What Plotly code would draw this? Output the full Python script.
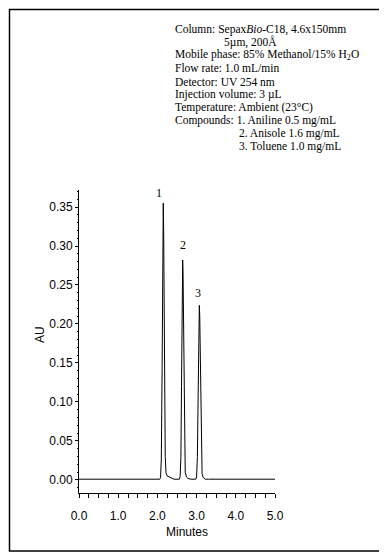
import plotly.graph_objects as go

# ---- data ----
minutes = [0.00, 2.00, 2.06, 2.08, 2.10, 2.12, 2.13, 2.14, 2.15, 2.16, 2.17, 2.18, 2.19, 2.20, 2.22,
           2.25, 2.30, 2.36, 2.42, 2.50, 2.56, 2.58, 2.60, 2.615, 2.625, 2.635, 2.645, 2.655, 2.665,
           2.675, 2.69, 2.71, 2.74, 2.78, 2.85, 2.93, 2.98, 3.00, 3.02, 3.04, 3.05, 3.06, 3.07, 3.08,
           3.09, 3.10, 3.12, 3.14, 3.17, 3.22, 3.30, 5.00]
au = [0.001, 0.001, 0.001, 0.003, 0.027, 0.140, 0.235, 0.320, 0.355, 0.320, 0.235, 0.140, 0.070,
      0.030, 0.009, 0.005, 0.004, 0.002, 0.001, 0.001, 0.001, 0.004, 0.030, 0.120, 0.200, 0.262,
      0.282, 0.262, 0.200, 0.120, 0.040, 0.010, 0.004, 0.002, 0.001, 0.001, 0.001, 0.004, 0.030,
      0.110, 0.170, 0.210, 0.224, 0.210, 0.170, 0.110, 0.030, 0.008, 0.003, 0.001, 0.001, 0.001]

peak_labels = ["1", "2", "3"]
label_times = [2.04, 2.645, 3.04]
label_heights = [0.368, 0.301, 0.240]

info_lines = [
    "Column: Sepax<i>Bio</i>-C18, 4.6x150mm",
    "5\u00b5m, 200\u00c5",
    "Mobile phase: 85% Methanol/15% H<sub>2</sub>O",
    "Flow rate: 1.0 mL/min",
    "Detector: UV 254 nm",
    "Injection volume: 3 \u00b5L",
    "Temperature: Ambient (23\u00b0C)",
    "Compounds: 1. Aniline 0.5 mg/mL",
    "2. Anisole 1.6 mg/mL",
    "3. Toluene 1.0 mg/mL",
]
info_indent = [0, 1, 0, 0, 0, 0, 0, 0, 2, 2]

# ---- layout geometry (window pixels; page body adds an 8px margin) ----
OFF = 8
W, H = 387 - OFF, 558 - OFF
L, R, T, B = 79 - OFF, 275 - OFF, 190 - OFF, 493 - OFF


def px(x):
    return (x - OFF - L) / (R - L)


def py(y):
    return (B - (y - OFF)) / (B - T)


fig = go.Figure()
fig.add_trace(go.Scatter(x=minutes, y=au, mode="lines",
                         line=dict(color="black", width=1), hoverinfo="skip",
                         showlegend=False))

annotations = []
for lab, t, h in zip(peak_labels, label_times, label_heights):
    annotations.append(dict(x=t, y=h, xref="x", yref="y", text=lab, showarrow=False,
                            xanchor="center", yanchor="middle",
                            font=dict(family="Liberation Serif", size=12, color="black")))

indent_px = [173, 222, 237]
for i, (line, ind) in enumerate(zip(info_lines, info_indent)):
    ycen = 29.3 + 13.05 * i
    annotations.append(dict(x=px(indent_px[ind]), y=py(ycen), xref="paper", yref="paper",
                            text=line, showarrow=False, xanchor="left", yanchor="middle",
                            font=dict(family="Liberation Serif", size=11.5, color="black")))

annotations.append(dict(x=px(40), y=py(335), xref="paper", yref="paper", text="AU",
                        textangle=-90, showarrow=False, xanchor="center", yanchor="middle",
                        font=dict(family="Liberation Sans", size=12, color="black")))
annotations.append(dict(x=px(187), y=py(532), xref="paper", yref="paper", text="Minutes",
                        showarrow=False, xanchor="center", yanchor="middle",
                        font=dict(family="Liberation Sans", size=12, color="black")))

shapes = [dict(type="rect", xref="paper", yref="paper",
               x0=px(9.5), x1=px(381.5), y0=py(551), y1=py(9.5),
               line=dict(color="black", width=1.5))]

fig.update_layout(
    width=W, height=H,
    margin=dict(l=L, r=W - R, t=T, b=H - B, pad=0),
    paper_bgcolor="white", plot_bgcolor="white",
    annotations=annotations, shapes=shapes,
    xaxis=dict(range=[0, 5], showgrid=False, zeroline=False, showline=True,
               linecolor="black", linewidth=1, ticks="outside", ticklen=4,
               tickcolor="black", tickwidth=1, dtick=1, tick0=0, tickformat=".1f",
               ticklabelstandoff=8,
               minor=dict(dtick=0.25, ticks="outside", ticklen=4, tickcolor="black",
                          tickwidth=1, showgrid=False),
               tickfont=dict(family="Liberation Sans", size=12, color="black")),
    yaxis=dict(range=[-0.0167, 0.3718], showgrid=False, zeroline=False, showline=True,
               linecolor="black", linewidth=1, ticks="outside", ticklen=3,
               tickcolor="black", tickwidth=1, dtick=0.05, tick0=0, tickformat=".2f",
               minor=dict(dtick=0.01, ticks="outside", ticklen=1.5, tickcolor="black",
                          tickwidth=1, showgrid=False),
               tickfont=dict(family="Liberation Sans", size=12, color="black")),
)

fig.write_html("out.html")
